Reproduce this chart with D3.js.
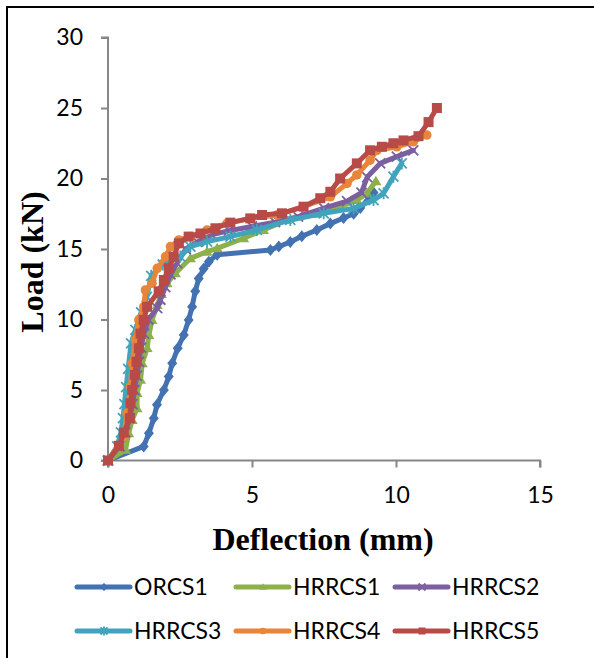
<!DOCTYPE html>
<html>
<head>
<meta charset="utf-8">
<script src="https://cdn.jsdelivr.net/npm/d3@7"></script>
<style>
  body { margin: 0; background: #fff; }
  svg { display: block; }
  .tick text { font-family: Lato, "Open Sans", sans-serif; font-size: 23px; fill: #000; }
  .axis-title { font-family: "Liberation Serif", "Times New Roman", serif; font-weight: bold; font-size: 32px; }
  .legend text { font-family: Lato, "Open Sans", sans-serif; font-size: 23px; }
</style>
</head>
<body>
<svg width="594" height="658"></svg>
<script>
// values: [deflection mm, load kN]
var orcs1 = [[0,0],[1.24,1.0],[1.42,1.94],[1.59,3.0],[1.7,3.95],[1.94,5.0],[2.11,5.95],[2.23,6.9],
  [2.42,7.96],[2.63,8.9],[2.8,9.97],[2.92,10.9],[3.03,12.0],[3.15,12.9],[3.32,13.6],[3.5,14.1],
  [3.79,14.6],[5.64,14.93],[5.93,15.17],[6.33,15.5],[6.73,15.9],[7.25,16.35],[7.72,16.8],
  [8.18,17.2],[8.53,17.5],[8.76,17.9],[9.22,19.0]];
var hrrcs1 = [[0,0],[0.61,0.76],[0.72,1.94],[0.84,2.88],[1.01,3.7],[1.01,4.78],[1.13,5.72],
  [1.19,6.9],[1.36,7.97],[1.42,8.9],[1.53,9.97],[1.71,11.03],[1.85,11.8],[2.05,12.57],
  [2.34,13.28],[2.86,14.34],[3.44,14.81],[3.79,15.05],[4.71,15.76],[5.4,16.35],[6.2,17.05],
  [7.25,17.5],[8.06,18.0],[8.64,18.47],[8.99,18.95],[9.3,19.8]];
var hrrcs2 = [[0,0],[0.4,1],[0.6,2],[0.75,3],[0.85,4],[0.92,5],[1.0,6],[1.08,7],[1.15,8],
  [1.25,9],[1.4,10],[1.71,10.8],[1.82,11.4],[1.99,12.3],[2.17,13.2],[2.4,14],[2.7,15],
  [3.1,15.5],[3.6,16],[4.2,16.3],[5.0,16.6],[5.8,16.9],[6.6,17.3],[7.5,17.9],[8.3,18.4],
  [8.8,19],[9.0,20.1],[9.45,21.07],[10.03,21.55],[10.6,22]];
var hrrcs3 = [[0,0],[0.32,1],[0.45,2],[0.52,3],[0.57,4],[0.63,5.2],[0.7,6.5],[0.8,8.3],
  [0.95,9.26],[1.15,10.5],[1.35,11.6],[1.5,13.1],[1.9,13.9],[2.51,14.46],[2.86,15.17],
  [3.44,15.52],[4.25,15.88],[5.17,16.35],[6.33,17.06],[7.49,17.53],[8.53,17.88],[9.22,18.47],
  [9.57,18.95],[9.91,20.13],[10.2,21.07]];
var hrrcs4 = [[0,0],[0.55,1.7],[0.66,3.35],[0.78,5.24],[0.84,6.9],[0.95,8.55],[1.07,9.97],
  [1.24,10.9],[1.3,12.1],[1.53,12.57],[1.71,13.63],[2.0,14.46],[2.17,15.17],[2.46,15.64],
  [2.86,15.88],[3.44,16.35],[4.13,16.82],[4.94,17.17],[5.87,17.41],[6.79,18.0],[7.72,18.7],
  [8.3,19.65],[8.64,20.25],[9.1,21.3],[9.34,22.0],[10.03,22.25],[10.6,22.6],[11.07,23.08]];
var hrrcs5 = [[0,0],[0.38,1.04],[0.55,1.98],[0.76,3.0],[0.78,4.06],[0.84,5.0],[0.93,6.07],
  [0.99,7.0],[1.07,7.96],[1.13,9.0],[1.24,9.97],[1.36,10.9],[1.76,12.0],[1.94,12.8],
  [2.11,13.63],[2.28,14.46],[2.46,15.4],[2.8,15.88],[3.21,16.1],[3.73,16.47],[4.25,16.87],
  [4.94,17.17],[5.35,17.41],[6.04,17.53],[6.79,18.0],[7.37,18.6],[7.72,19.06],[8.06,20.0],
  [8.64,21.07],[9.1,22.0],[9.51,22.25],[9.91,22.5],[10.26,22.7],[10.78,23.0],[11.13,24.0],
  [11.42,25.0]];

var seriesNames = ["ORCS1", "HRRCS1", "HRRCS2", "HRRCS3", "HRRCS4", "HRRCS5"];
var seriesData = [orcs1, hrrcs1, hrrcs2, hrrcs3, hrrcs4, hrrcs5];
var xTicks = [0, 5, 10, 15];
var yTicks = [0, 5, 10, 15, 20, 25, 30];

var colors = ["#4372b2", "#8db04b", "#7b5f9f", "#42a3bd", "#e8853a", "#b84a47"];
var markers = ["diamond", "triangle", "x", "star", "circle", "square"];

var svg = d3.select("svg");

// outer frame (right and bottom edges run off the picture)
svg.append("rect")
    .attr("x", 7).attr("y", 7)
    .attr("width", 620).attr("height", 700)
    .attr("fill", "none").attr("stroke", "#000").attr("stroke-width", 2);

var x = d3.scaleLinear().domain([0, 15]).range([108, 540]);
var y = d3.scaleLinear().domain([0, 30]).range([460.5, 37.5]);

var xAxis = svg.append("g")
    .attr("transform", "translate(0," + y(0) + ")")
    .call(d3.axisBottom(x).tickValues(xTicks).tickSize(7).tickPadding(19));
var yAxis = svg.append("g")
    .attr("transform", "translate(" + x(0) + ",0)")
    .call(d3.axisLeft(y).tickValues(yTicks).tickSize(7).tickPadding(18));

[xAxis, yAxis].forEach(function(a) {
    a.select(".domain").attr("stroke", "#868686").attr("stroke-width", 2);
    a.selectAll(".tick line").attr("stroke", "#868686").attr("stroke-width", 2);
});
xAxis.select(".domain").attr("d", "M" + x(0) + ",7V0H" + x(15) + "V7");
yAxis.select(".domain").attr("d", "M-7," + y(0) + "H0V" + y(30) + "H-7");

svg.append("text")
    .attr("class", "axis-title")
    .attr("x", 323).attr("y", 550)
    .attr("text-anchor", "middle")
    .text("Deflection (mm)");

svg.append("text")
    .attr("class", "axis-title")
    .attr("transform", "translate(43,262) rotate(-90)")
    .attr("text-anchor", "middle")
    .text("Load (kN)");

// Excel-like marker shapes, k scales them (legend uses smaller ones)
function drawMarker(sel, type, color, k) {
    var r = 5 * k;
    if (type == "x" || type == "star") {
        var d = "M" + (-r) + "," + (-r) + "L" + r + "," + r + "M" + (-r) + "," + r + "L" + r + "," + (-r);
        if (type == "star") d += "M0," + (-r - 1) + "V" + (r + 1);
        sel.append("path").attr("d", d)
            .attr("stroke", color).attr("stroke-width", 1.8).attr("fill", "none");
    } else if (type == "diamond") {
        sel.append("path").attr("d", "M0," + (-r * 1.2) + "L" + r + ",0L0," + (r * 1.2) + "L" + (-r) + ",0Z")
            .attr("fill", color);
    } else if (type == "triangle") {
        sel.append("path").attr("d", "M0," + (-r * 1.1) + "L" + (r * 1.1) + "," + (r * 0.8) + "L" + (-r * 1.1) + "," + (r * 0.8) + "Z")
            .attr("fill", color);
    } else if (type == "circle") {
        sel.append("circle").attr("r", r * 0.95).attr("fill", color);
    } else {
        sel.append("rect").attr("x", -r).attr("y", -r)
            .attr("width", 2 * r).attr("height", 2 * r).attr("fill", color);
    }
}

var line = d3.line()
    .x(function(d) { return x(d[0]); })
    .y(function(d) { return y(d[1]); });

seriesData.forEach(function(data, i) {
    var g = svg.append("g");
    g.append("path")
        .datum(data)
        .attr("d", line)
        .attr("fill", "none")
        .attr("stroke", colors[i])
        .attr("stroke-width", 5)
        .attr("stroke-linejoin", "round")
        .attr("stroke-linecap", "round");
    g.selectAll(".pt")
        .data(data)
        .enter().append("g")
        .attr("class", "pt")
        .attr("transform", function(d) { return "translate(" + x(d[0]) + "," + y(d[1]) + ")"; })
        .each(function() { drawMarker(d3.select(this), markers[i], colors[i], 1); });
});

// legend, two rows of three
var legend = svg.append("g").attr("class", "legend");
seriesNames.forEach(function(name, i) {
    var lx = 77 + (i % 3) * 159;
    var ly = 587 + Math.floor(i / 3) * 44;
    var item = legend.append("g").attr("transform", "translate(" + lx + "," + ly + ")");
    item.append("line")
        .attr("x1", 0).attr("x2", 53).attr("y1", 0).attr("y2", 0)
        .attr("stroke", colors[i]).attr("stroke-width", 5)
        .attr("stroke-linecap", "round");
    var m = item.append("g").attr("transform", "translate(27,0)");
    drawMarker(m, markers[i], colors[i], 0.7);
    item.append("text")
        .attr("x", 57).attr("y", 0).attr("dy", "0.35em")
        .text(name);
});
</script>
</body>
</html>
